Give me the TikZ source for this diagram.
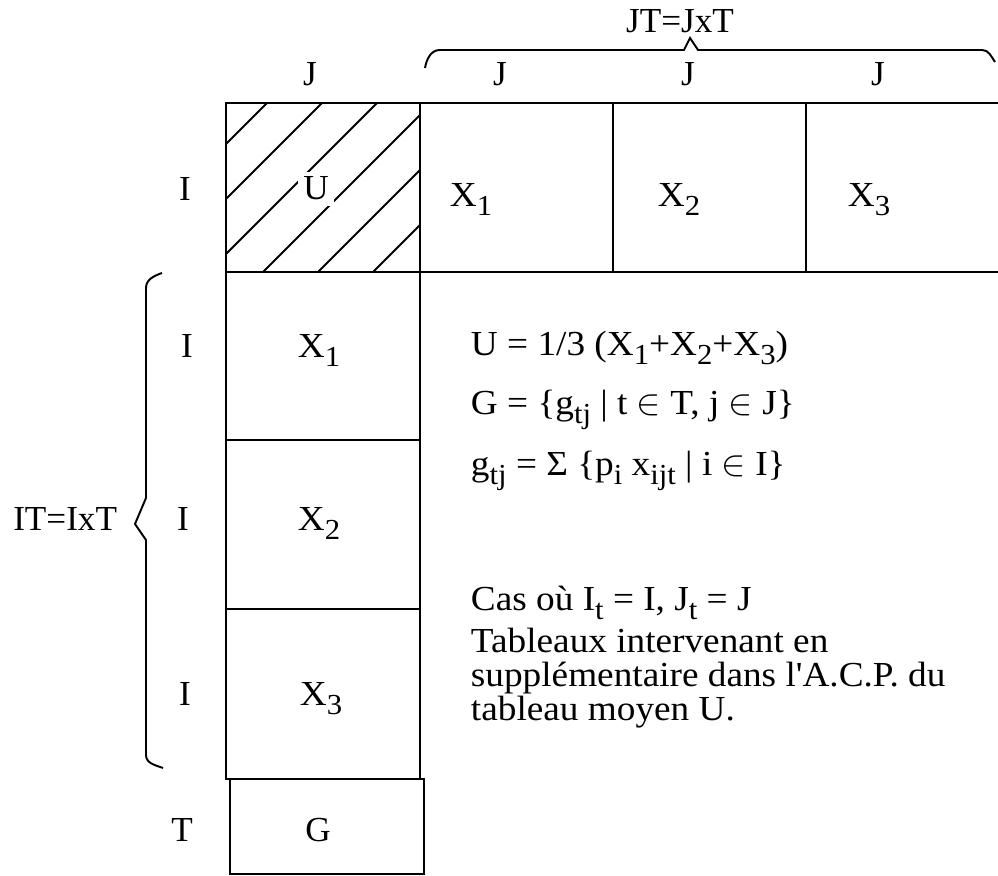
\documentclass[tikz,border=0pt]{standalone}
\usepackage{fontspec}
\setmainfont{Liberation Serif}
\newfontfamily\widefont[FakeStretch=1.06]{Liberation Serif}
\newcommand{\sub}[1]{\raisebox{-0.17cm}{\fontsize{16.5}{17}\selectfont #1}}

\begin{document}
\begin{tikzpicture}[line width=1.4pt,
  every node/.style={font=\fontsize{20}{22}\selectfont, inner sep=1pt},
  lab/.style={anchor=base},
  txt/.style={anchor=base west, font=\widefont\fontsize{20}{22}\selectfont}]
 \useasboundingbox (0,0) rectangle (19.96,17.52);

 % top row : U X1 X2 X3
 \draw (4.52,12.08) rectangle (8.40,15.46);
 \draw (19.96,15.46) -- (8.40,15.46) -- (8.40,12.08) -- (19.96,12.08);
 \draw (12.26,15.46) -- (12.26,12.08);
 \draw (16.12,15.46) -- (16.12,12.08);

 % left column : X1 X2 X3 G
 \draw (4.52,12.08) rectangle (8.40,8.72);
 \draw (4.52,8.72) rectangle (8.40,5.34);
 \draw (4.52,5.34) rectangle (8.40,1.94);
 \draw (4.60,1.94) rectangle (8.48,0.04);

 % hatching of U
 \begin{scope}
  \clip (4.52,12.08) rectangle (8.40,15.46);
  \foreach \k in {0,...,5}
   \draw[line width=1.1pt] ({0.34+1.1*\k},10.46) -- ({5.34+1.1*\k},15.46);
 \end{scope}
 \node[lab, fill=white, inner sep=3pt] (u) at (6.32,13.52) {U};

 % braces
 \draw[line width=1.1pt] (8.50,16.16) to[out=80,in=180] (8.80,16.52) -- (13.68,16.52)
   -- (13.80,16.76) -- (13.96,16.52) -- (19.64,16.52) to[out=0,in=125] (19.90,16.28);
 \draw[line width=1.1pt] (3.24,12.06) to[out=200,in=90] (2.92,11.76) -- (2.92,7.56)
   -- (2.70,7.04) -- (2.92,6.72) -- (2.92,2.42) to[out=-90,in=160] (3.26,2.16);

 \node[lab] (jt) at (13.60,16.86) {JT=JxT};
 \node[lab] (ju) at (6.20,15.80) {J};
 \node[lab] (j1) at (10.00,15.80) {J};
 \node[lab] (j2) at (13.76,15.80) {J};
 \node[lab] (j3) at (17.56,15.80) {J};

 \node[lab] (i0) at (3.70,13.50) {I};
 \node[txt] (xa) at (8.94,13.38) {X\sub{1}};
 \node[txt] (xb) at (13.10,13.38) {X\sub{2}};
 \node[txt] (xc) at (16.90,13.38) {X\sub{3}};

 \node[lab] (i1) at (3.74,10.36) {I};
 \node[lab] (i2) at (3.66,6.90) {I};
 \node[lab] (i3) at (3.70,3.40) {I};
 \node[lab] (t) at (3.64,0.68) {T};
 \node[anchor=base east] (it) at (2.40,6.90) {IT=IxT};
 \node[txt] (ya) at (5.90,10.36) {X\sub{1}};
 \node[txt] (yb) at (5.90,6.90) {X\sub{2}};
 \node[txt] (yc) at (5.94,3.40) {X\sub{3}};
 \node[lab] (g) at (6.36,0.68) {G};

 % formulas and comment
 \node[txt] (f1) at (9.36,10.40) {U = 1/3 (X\sub{1}+X\sub{2}+X\sub{3})};
 \node[txt] (f2) at (9.36,9.22) {G = \{g\sub{tj} | t $\in$ T, j $\in$ J\}};
 \node[txt] (f3) at (9.36,8.00) {g\sub{tj} = Σ \{p\sub{i} x\sub{ijt} | i $\in$ I\}};
 \node[txt] (c1) at (9.36,5.30) {Cas où I\sub{t} = I, J\sub{t} = J};
 \node[txt] (c2) at (9.36,4.46) {Tableaux intervenant en};
 \node[txt] (c3) at (9.36,3.78) {supplémentaire dans l'A.C.P. du};
 \node[txt] (c4) at (9.36,3.10) {tableau moyen U.};
\end{tikzpicture}
\end{document}
